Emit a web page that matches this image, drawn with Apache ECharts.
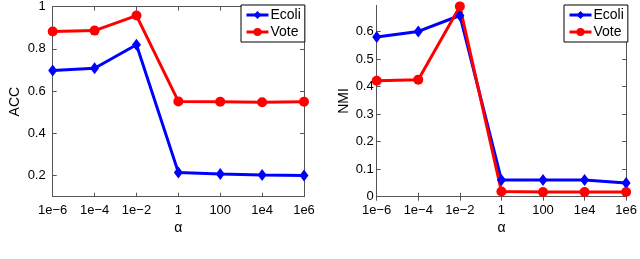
<!DOCTYPE html>
<html>
<head>
<meta charset="utf-8">
<script src="https://cdn.jsdelivr.net/npm/echarts@6/dist/echarts.min.js"></script>
<style>
html,body{margin:0;padding:0;background:#fff;}
#c{width:640px;height:259px;}
</style>
</head>
<body>
<div id="c"></div>
<script>
const categories = ['1e\u22126', '1e\u22124', '1e\u22122', '1', '100', '1e4', '1e6'];
const accEcoli = [0.697, 0.708, 0.819, 0.215, 0.208, 0.203, 0.200];
const accVote  = [0.882, 0.886, 0.957, 0.551, 0.549, 0.547, 0.549];
const nmiEcoli = [0.580, 0.600, 0.658, 0.061, 0.061, 0.061, 0.050];
const nmiVote  = [0.421, 0.425, 0.691, 0.019, 0.017, 0.017, 0.017];
const accTicks = [0.2, 0.4, 0.6, 0.8, 1];
const nmiTicks = [0, 0.1, 0.2, 0.3, 0.4, 0.5, 0.6];
const seriesNames = ['Ecoli', 'Vote'];

const FONT = "'Liberation Sans', Arial, sans-serif";
const AX = '#555';
const BLUE = '#0000ff';
const RED = '#ff0000';

const chart = echarts.init(document.getElementById('c'), null, {renderer: 'canvas'});

function xMain(g) {
  return {
    type: 'category', gridIndex: g, data: categories, boundaryGap: false,
    name: '\u03b1', nameLocation: 'middle', nameGap: 19,
    nameTextStyle: {color: '#000', fontSize: 14, fontFamily: FONT},
    axisLine: {lineStyle: {color: AX, width: 1}},
    axisTick: {inside: true, length: 4, lineStyle: {color: AX}},
    axisLabel: {color: '#000', fontSize: 13, fontFamily: FONT, margin: 7, interval: 0},
    splitLine: {show: false}
  };
}
function xTop(g) {
  return {
    type: 'category', gridIndex: g, data: categories, boundaryGap: false, position: 'top',
    axisLine: {lineStyle: {color: AX, width: 1}},
    axisTick: {inside: true, length: 4, lineStyle: {color: AX}},
    axisLabel: {show: false}, splitLine: {show: false}
  };
}
function yMain(g, min, max, ticks, name, gap, margin) {
  return {
    type: 'value', gridIndex: g, min: min, max: max,
    name: name, nameLocation: 'middle', nameGap: gap,
    nameTextStyle: {color: '#000', fontSize: 14, fontFamily: FONT},
    axisLine: {show: true, lineStyle: {color: AX, width: 1}},
    axisTick: {show: true, inside: true, length: 4, customValues: ticks, lineStyle: {color: AX}},
    axisLabel: {color: '#000', fontSize: 13, fontFamily: FONT, margin: margin, customValues: ticks,
      formatter: v => String(Math.round(v * 10) / 10)},
    splitLine: {show: false}
  };
}
function yRight(g, min, max, ticks) {
  return {
    type: 'value', gridIndex: g, min: min, max: max, position: 'right',
    axisLine: {show: true, lineStyle: {color: AX, width: 1}},
    axisTick: {show: true, inside: true, length: 4, customValues: ticks, lineStyle: {color: AX}},
    axisLabel: {show: false, customValues: ticks}, splitLine: {show: false}
  };
}
function line(name, data, xi, yi, color, symbol, size) {
  return {
    type: 'line', name: name, data: data, xAxisIndex: xi, yAxisIndex: yi,
    symbol: symbol, symbolSize: size, showSymbol: true,
    lineStyle: {color: color, width: 3},
    itemStyle: {color: color},
    emphasis: {disabled: true}, animation: false
  };
}
function legend(left) {
  return {
    left: left, top: 5, orient: 'vertical',
    data: seriesNames,
    backgroundColor: '#fff', borderColor: '#000', borderWidth: 1, borderRadius: 0,
    padding: [3, 4, 3, 4], itemGap: 3, itemWidth: 22, itemHeight: 10,
    lineStyle: {width: 3},
    textStyle: {color: '#000', fontSize: 14, fontFamily: FONT, padding: [0, 0, 0, -3]},
    selectedMode: false
  };
}

chart.setOption({
  animation: false,
  backgroundColor: '#fff',
  grid: [
    {left: 52.7, right: 336, top: 5.3, bottom: 62.3},
    {left: 376.7, right: 12.3, top: 5.3, bottom: 62.3}
  ],
  xAxis: [xMain(0), xMain(1), xTop(0), xTop(1)],
  yAxis: [
    yMain(0, 0.1, 1, accTicks, 'ACC', 31, 7),
    yMain(1, 0, 0.695, nmiTicks, 'NMI', 26, 3),
    yRight(0, 0.1, 1, accTicks),
    yRight(1, 0, 0.695, nmiTicks)
  ],
  legend: [legend(241), legend(564)],
  series: [
    line(seriesNames[0], accEcoli, 0, 0, BLUE, 'diamond', [9, 12]),
    line(seriesNames[1], accVote, 0, 0, RED, 'circle', 10),
    line(seriesNames[0], nmiEcoli, 1, 1, BLUE, 'diamond', [9, 12]),
    line(seriesNames[1], nmiVote, 1, 1, RED, 'circle', 10)
  ]
});
</script>
</body>
</html>
